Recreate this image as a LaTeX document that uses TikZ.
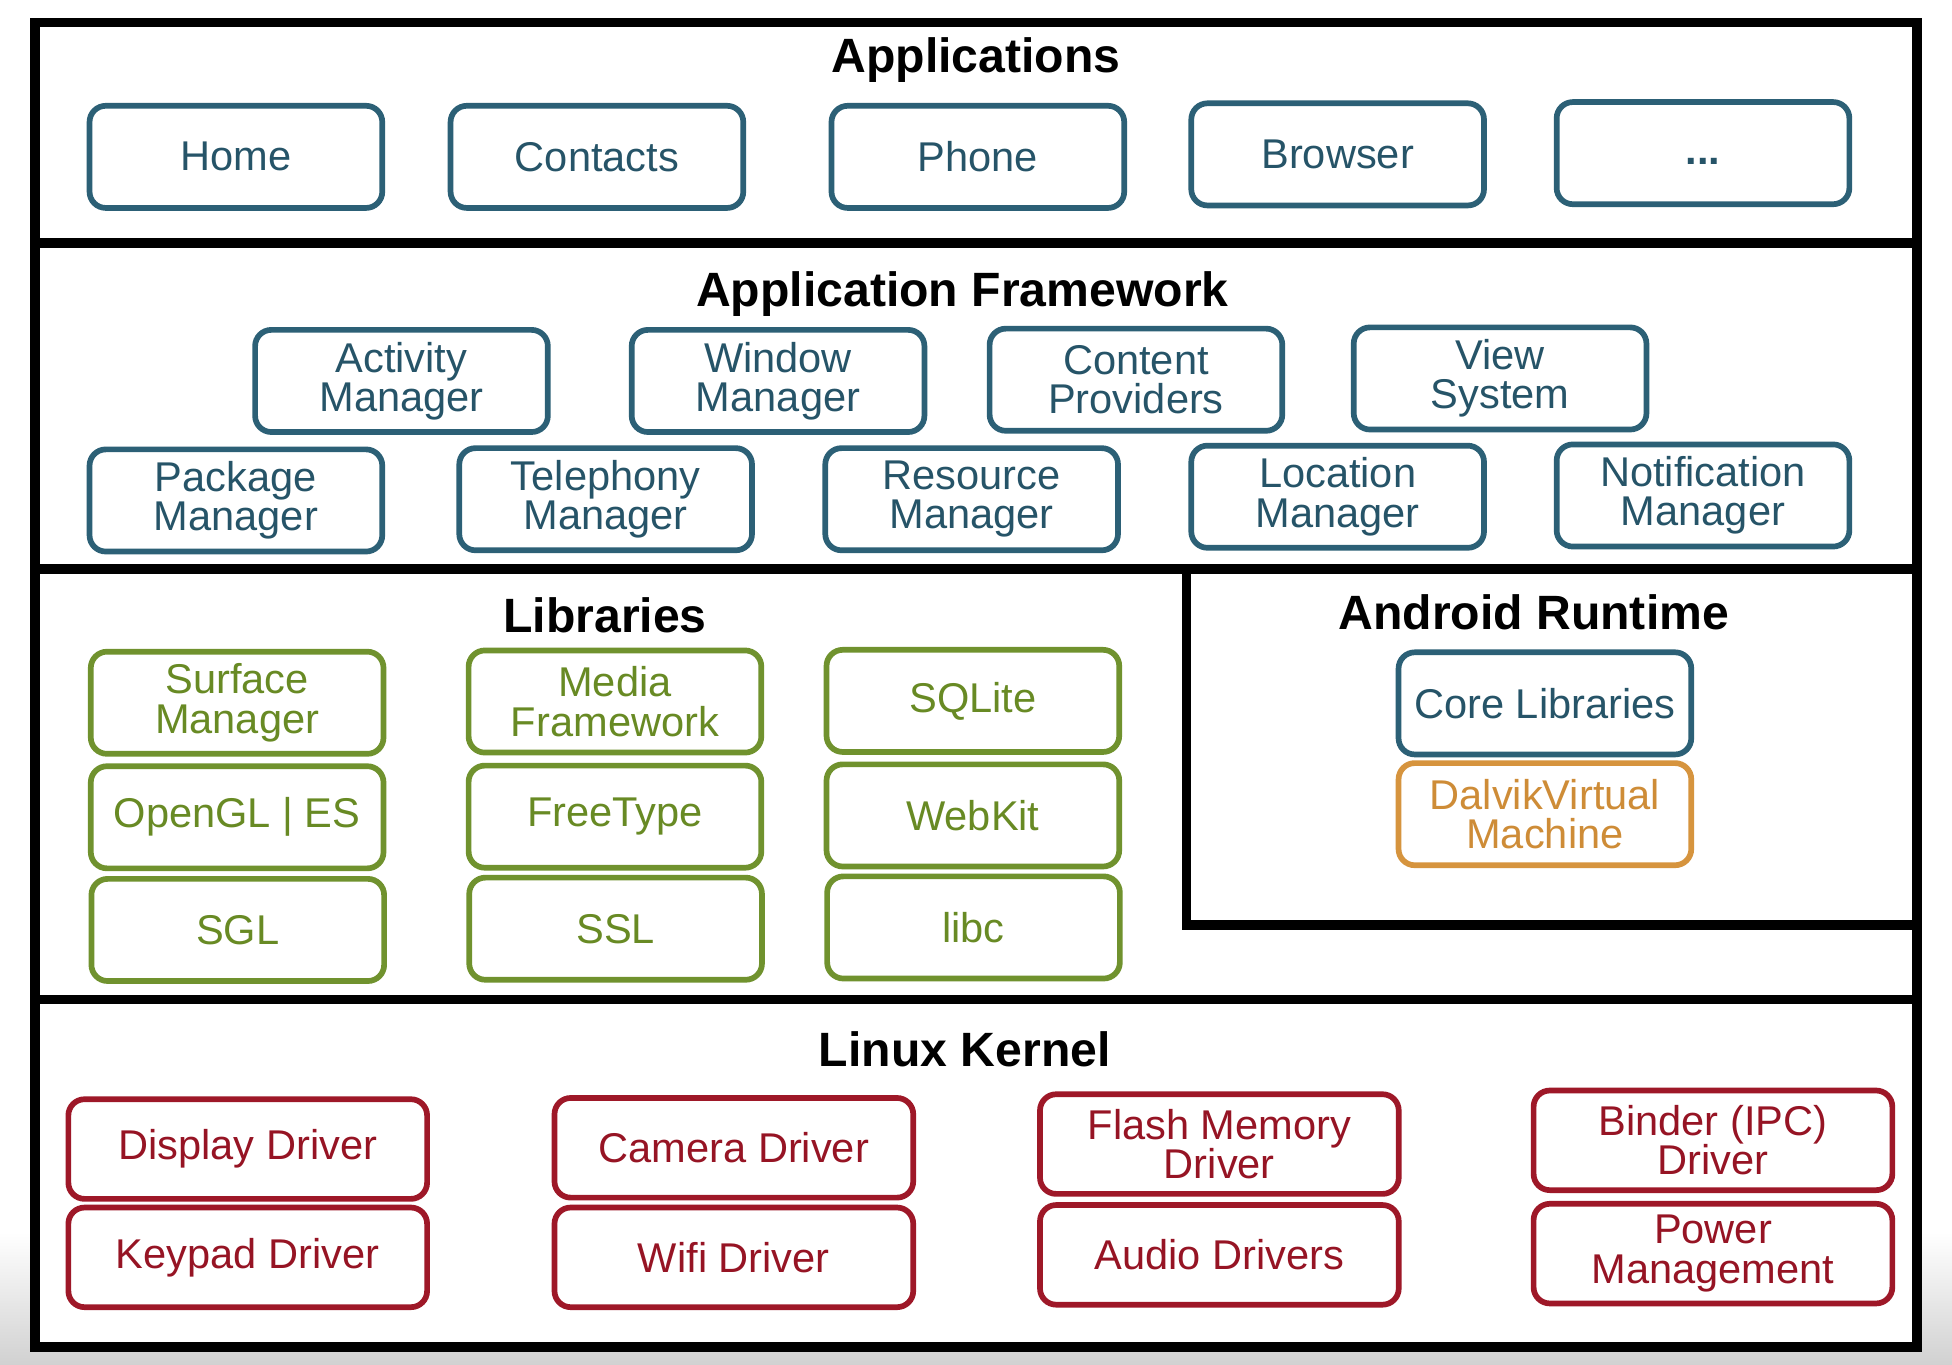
\documentclass[tikz,border=0pt]{standalone}
\usepackage{fontspec}
\setmainfont{Liberation Sans}
\begin{document}
\begin{tikzpicture}[x=0.01cm,y=-0.01cm,
  tealc/.style={draw=blueline,text=bluetext},
  greenc/.style={draw=greenline,text=greentext},
  orangec/.style={draw=orangeline,text=orangetext},
  redc/.style={draw=redline,text=redtext},
  box/.style={rounded corners=0.13cm,line width=1.3pt,align=center,
    minimum width=2.35cm,minimum height=0.82cm,inner sep=0pt,
    font=\fontsize{9.5}{9}\selectfont},
  kbox/.style={box,minimum width=2.88cm,minimum height=0.80cm},
  title/.style={font=\fontsize{11}{12}\selectfont\bfseries,text=black},
  frame/.style={line width=2.2pt,draw=black}]
\definecolor{blueline}{RGB}{44,96,118}
\definecolor{bluetext}{RGB}{38,84,104}
\definecolor{greenline}{RGB}{112,146,46}
\definecolor{greentext}{RGB}{104,138,36}
\definecolor{orangeline}{RGB}{214,148,62}
\definecolor{orangetext}{RGB}{206,140,55}
\definecolor{redline}{RGB}{158,24,40}
\definecolor{redtext}{RGB}{150,20,36}
\useasboundingbox (0,0) rectangle (1568,1096);
\fill[white] (0,0) rectangle (1568,1096);
\shade[top color=white,bottom color=black!18] (0,990) rectangle (1568,1096);
% frame
\draw[frame,fill=white] (28,18) rectangle (1540,1082);
\draw[frame] (28,195) -- (1540,195);
\draw[frame] (28,457) -- (1540,457);
\draw[frame] (28,803) -- (1540,803);
\draw[frame] (953,457) -- (953,743) -- (1540,743);
% titles
\node[title] (tapp) at (784,48) {Applications};
\node[title] (tfw) at (773,236) {Application Framework};
\node[title] (tlib) at (486,494) {Libraries};
\node[title] (trt) at (1232,492) {Android Runtime};
\node[title] (tker) at (775,843) {Linux Kernel};
% applications
\node[box,tealc] (home) at (189.5,126) {Home};
\node[box,tealc] (contacts) at (479.5,126) {Contacts};
\node[box,tealc] (phone) at (785.5,126) {Phone};
\node[box,tealc] (browser) at (1074.5,124) {Browser};
\node[box,tealc] (more) at (1368,123) {\smash{\raisebox{-0.09cm}{\textbf{...}}}};
% framework
\node[box,tealc] (activity) at (322.5,306) {Activity\\Manager};
\node[box,tealc] (window) at (625,306) {Window\\Manager};
\node[box,tealc] (content) at (912.5,305) {Content\\Providers};
\node[box,tealc] (view) at (1205,304) {View\\System};
\node[box,tealc] (package) at (189.5,402) {Package\\Manager};
\node[box,tealc] (telephony) at (486.5,401) {Telephony\\Manager};
\node[box,tealc] (resource) at (780.5,401) {Resource\\Manager};
\node[box,tealc] (location) at (1074.5,399) {Location\\Manager};
\node[box,tealc] (notification) at (1368,398) {Notification\\Manager};
% libraries
\node[box,greenc] (surface) at (190.5,564.5) {Surface\\Manager};
\node[box,greenc] (media) at (494,563.5) {Media\\Framework};
\node[box,greenc] (sqlite) at (781.5,563) {SQLite};
\node[box,greenc] (opengl) at (190.5,656.5) {OpenGL | ES};
\node[box,greenc] (freetype) at (494,656) {FreeType};
\node[box,greenc] (webkit) at (781.5,655) {WebKit};
\node[box,greenc] (sgl) at (191,747) {SGL};
\node[box,greenc] (ssl) at (494.5,746) {SSL};
\node[box,greenc] (libc) at (782,745) {libc};
% android runtime
\node[box,tealc] (core) at (1241,565) {Core Libraries};
\node[box,orangec] (dalvik) at (1241,654) {DalvikVirtual\\Machine};
% kernel
\node[kbox,redc] (display) at (199,923) {Display Driver};
\node[kbox,redc] (camera) at (589.5,922) {Camera Driver};
\node[kbox,redc] (flash) at (979.5,919) {Flash Memory\\Driver};
\node[kbox,redc] (binder) at (1376,916) {Binder (IPC)\\Driver};
\node[kbox,redc] (keypad) at (199,1010) {Keypad Driver};
\node[kbox,redc] (wifi) at (589.5,1010) {Wifi Driver};
\node[kbox,redc] (audio) at (979.5,1008) {Audio Drivers};
\node[kbox,redc] (power) at (1376,1007) {Power\\Management};
\end{tikzpicture}
\end{document}
